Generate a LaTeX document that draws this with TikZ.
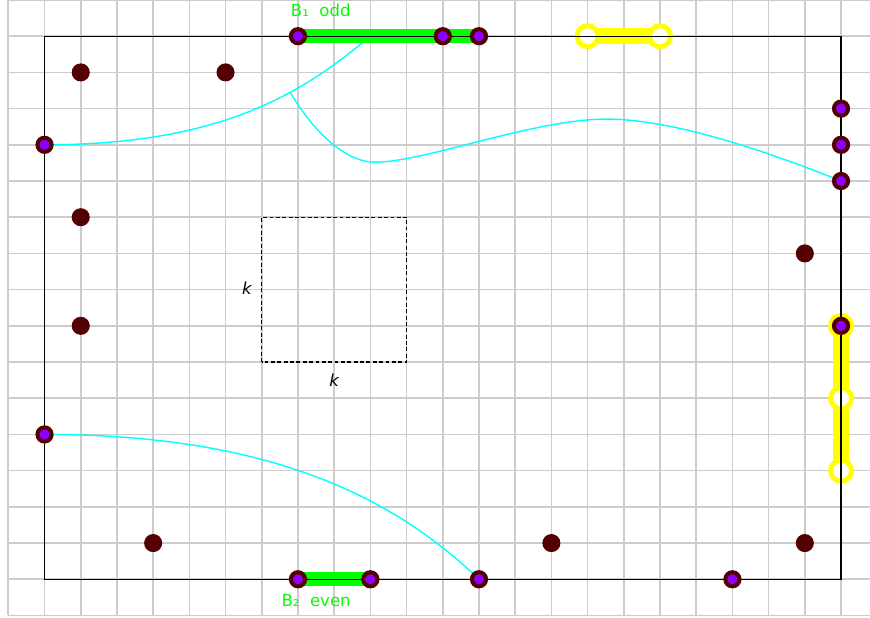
\documentclass[tikz,border=0pt]{standalone}
\usepackage{fontspec}
\setmainfont{DejaVu Sans}
\usetikzlibrary{positioning,calc}
\definecolor{maroondot}{RGB}{85,0,0}
\definecolor{vertexviolet}{RGB}{140,0,255}
\definecolor{walkcyan}{RGB}{0,255,255}
\definecolor{barlime}{RGB}{0,255,0}
\definecolor{baryellow}{RGB}{255,255,0}

\begin{document}
\begin{tikzpicture}[x=1cm,y=1cm,
		gridline/.style={draw=black!20,line width=1.3pt},
		boundary/.style={draw=black,line width=1pt},
		walk/.style={draw=walkcyan,line width=1.1pt},
		greenbar/.style={draw=barlime,line width=10.7pt},
		yellowbar/.style={draw=baryellow,line width=13pt},
		openring/.style={circle,inner sep=0pt,minimum size=0.58cm,draw=baryellow,fill=white,line width=3.9pt},
		vertexmark/.style={circle,inner sep=0pt,minimum size=0.39cm,draw=maroondot,fill=vertexviolet,line width=3.2pt},
		plaindot/.style={circle,inner sep=0pt,minimum size=0.5cm,fill=maroondot},
		bartext/.style={text=barlime,font=\fontsize{13}{15}\selectfont,inner sep=0pt},
		sidetext/.style={font=\fontsize{13}{15}\selectfont\itshape,inner sep=0pt}]
		\useasboundingbox (-1.23,-1.05) rectangle (22.8,16);
		\draw[gridline] (-1,-1) grid (23,16);
		
		\coordinate (sw) at (0,0);
		\coordinate (ne) at (22,15);
		\coordinate (t1) at (7,15);
		\coordinate (t2) at (11,15);
		\coordinate (t3) at (12,15);
		\coordinate (topend) at (9,15);
		\coordinate (l1) at (0,12);
		\coordinate (l2) at (0,4);
		\coordinate (r1) at (22,13);
		\coordinate (r2) at (22,12);
		\coordinate (r3) at (22,11);
		\coordinate (r4) at (22,7);
		\coordinate (b1) at (7,0);
		\coordinate (b2) at (9,0);
		\coordinate (b3) at (12,0);
		\coordinate (b4) at (19,0);
		\coordinate (y1) at (15,15);
		\coordinate (y2) at (17,15);
		\coordinate (y4) at (22,5);
		\coordinate (y5) at (22,3);
		
		\draw[walk] (l1) .. controls (5,12) and (7.2,13.5) .. (topend) coordinate[pos=0.64] (fork);
		\draw[walk] (fork) .. controls +(0.5,-0.87) and (8.2,11.52) .. (9.13,11.52) .. controls (10.5,11.52) and (13.5,12.71) .. (15.53,12.71) .. controls (17.5,12.71) and (20.33,11.67) .. (r3);
		\draw[walk] (l2) .. controls (6,4) and (9.5,2.4) .. (b3);
		
		\draw[greenbar] (t1) -- (t3);
		\draw[greenbar] (b1) -- (b2);
		\draw[yellowbar] (y1) -- (y2);
		\draw[yellowbar] (r4) -- (y5);
		\node[openring] (ry1) at (y1) {};
		\node[openring] (ry2) at (y2) {};
		\node[openring] (ry3) at (r4) {};
		\node[openring] (ry4) at (y4) {};
		\node[openring] (ry5) at (y5) {};
		
		\draw[boundary] (sw) rectangle (ne);
		\draw[dashed,line width=0.9pt,dash pattern=on 3pt off 2pt] (6,6) rectangle (10,10);
		\node[sidetext] (kside) at (5.59,8.03) {k};
		\node[sidetext] (kbase) at (8.0,5.5) {k};
		\node[bartext,anchor=base west] (oddtext) at (6.80,15.55) {B₁\ \ odd};
		\node[bartext,anchor=base west] (eventext) at (6.54,-0.74) {B₂\ \ even};
		
		\node[plaindot] (d1) at (1,14) {};
		\node[plaindot] (d2) at (5,14) {};
		\node[plaindot] (d3) at (1,10) {};
		\node[plaindot] (d4) at (1,7) {};
		\node[plaindot] (d5) at (3,1) {};
		\node[plaindot] (d6) at (14,1) {};
		\node[plaindot] (d7) at (21,1) {};
		\node[plaindot] (d8) at (21,9) {};
		
		\node[vertexmark] (vt1) at (t1) {};
		\node[vertexmark] (vt2) at (t2) {};
		\node[vertexmark] (vt3) at (t3) {};
		\node[vertexmark] (vl1) at (l1) {};
		\node[vertexmark] (vl2) at (l2) {};
		\node[vertexmark] (vr1) at (r1) {};
		\node[vertexmark] (vr2) at (r2) {};
		\node[vertexmark] (vr3) at (r3) {};
		\node[vertexmark] (vr4) at (r4) {};
		\node[vertexmark] (vb1) at (b1) {};
		\node[vertexmark] (vb2) at (b2) {};
		\node[vertexmark] (vb3) at (b3) {};
		\node[vertexmark] (vb4) at (b4) {};
\end{tikzpicture}
\end{document}
